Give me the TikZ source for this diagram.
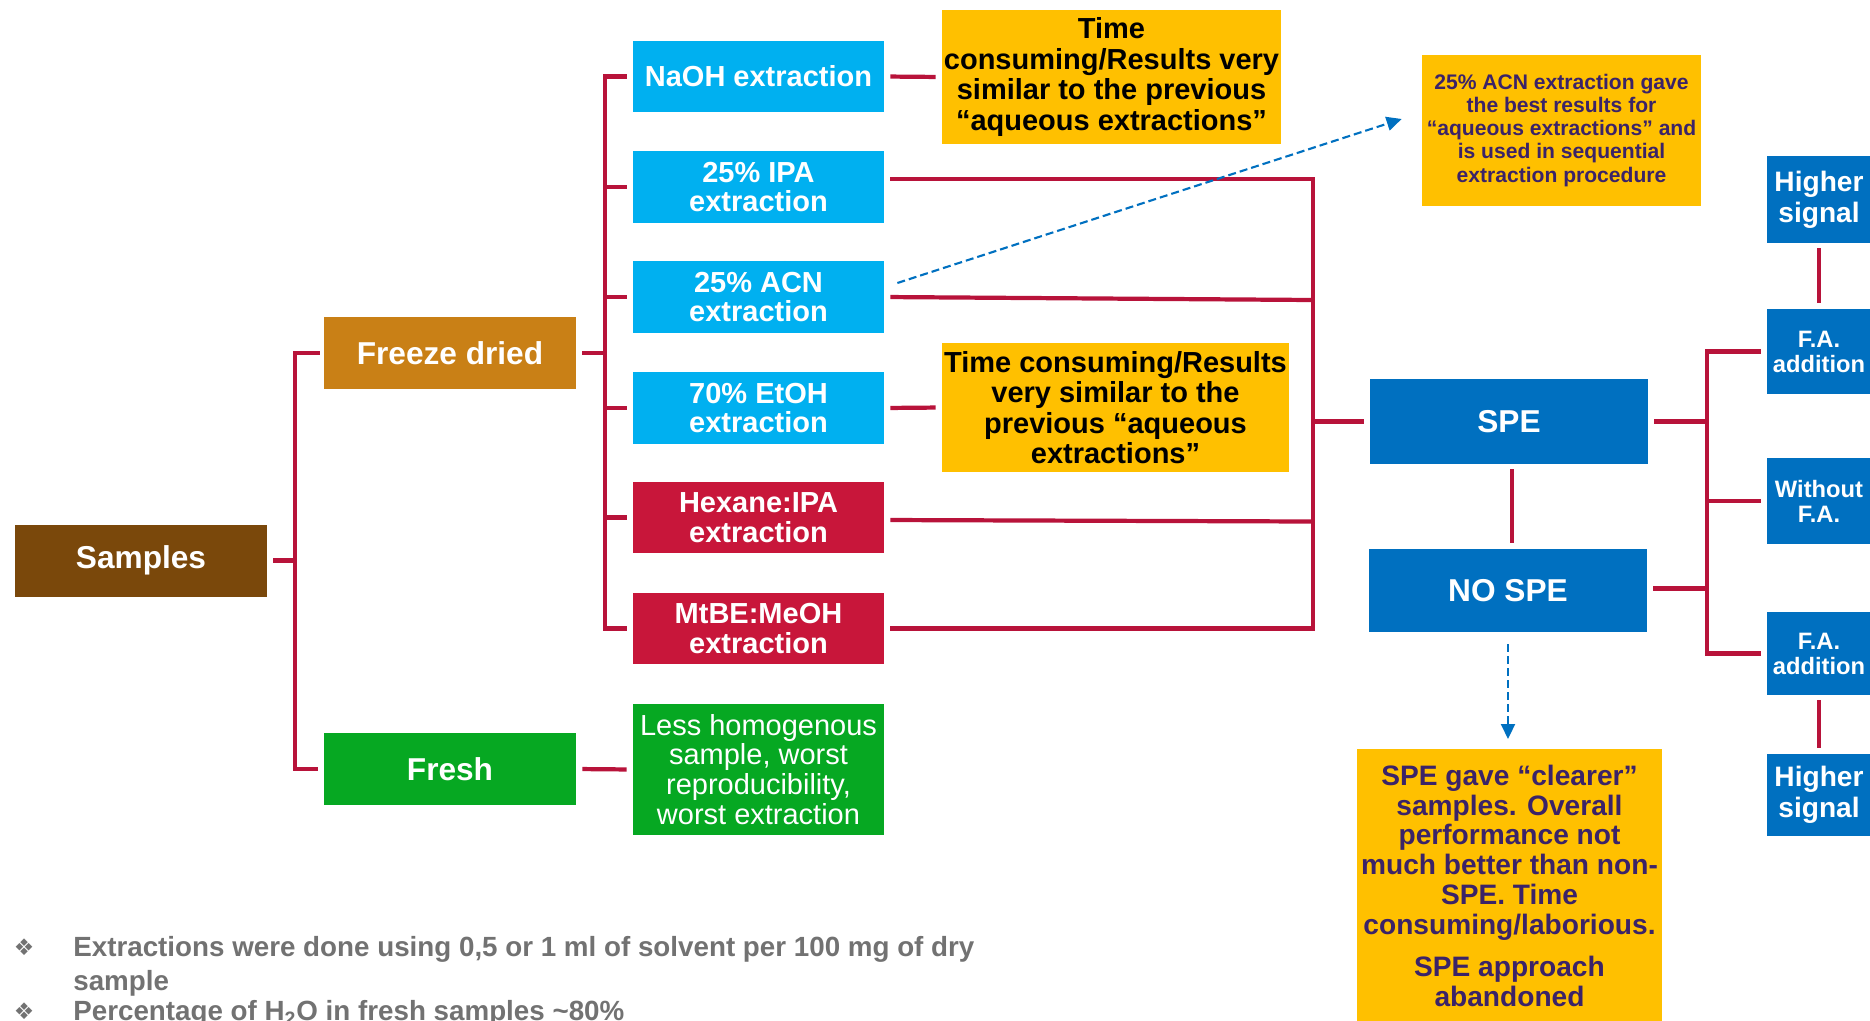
\documentclass[tikz,border=0pt]{standalone}
\usepackage{fontspec}
\setmainfont{Liberation Sans}
\newfontfamily\dejavu{DejaVu Sans}
\usetikzlibrary{arrows.meta}
\definecolor{brownbox}{HTML}{7A480B}
\definecolor{ochre}{HTML}{C98016}
\definecolor{greenbox}{HTML}{06A822}
\definecolor{skybox}{HTML}{00B0F0}
\definecolor{redbox}{HTML}{C8163A}
\definecolor{bluebox}{HTML}{0070C0}
\definecolor{notebox}{HTML}{FFC000}
\definecolor{notetext}{HTML}{3B2368}
\definecolor{linkred}{HTML}{B8133A}
\definecolor{bulletgray}{HTML}{727272}
\begin{document}
\begin{tikzpicture}
\tikzstyle{every node}=[rectangle,inner sep=0pt,align=center]
\tikzstyle{box}=[text=white,font=\fontsize{16.5pt}{17pt}\selectfont\bfseries,minimum width=5.02cm,minimum height=1.43cm]
\tikzstyle{big}=[box,font=\fontsize{18pt}{19pt}\selectfont\bfseries,minimum width=5.04cm,minimum height=1.44cm]
\tikzstyle{side}=[text=white,fill=bluebox,minimum width=2.08cm,font=\fontsize{13.5pt}{14.2pt}\selectfont\bfseries]
\tikzstyle{note}=[fill=notebox,font=\fontsize{16.5pt}{17.4pt}\selectfont\bfseries]
\tikzstyle{link}=[draw=linkred,line width=2.4pt,shorten >=0.12cm]
\tikzstyle{hint}=[draw=bluebox,line width=1.2pt,dash pattern=on 0.16cm off 0.08cm,-{Triangle[length=0.3cm,width=0.28cm]}]
\tikzstyle{remark}=[text=bulletgray,font=\fontsize{15.8pt}{18.8pt}\selectfont\bfseries,anchor=north west,align=left]
\useasboundingbox (0,0) rectangle (37.4,-20.4);

\node[big,fill=brownbox](s0) at (2.82,-11.21) {Samples};
\node[big,fill=ochre](f1) at (9.0,-7.06) {Freeze dried};
\node[big,fill=greenbox](f2) at (9.0,-15.38) {Fresh};

\node[box,fill=skybox](e1) at (15.17,-1.53) {NaOH extraction};
\node[box,fill=skybox](e2) at (15.17,-3.74) {25\% IPA\\extraction};
\node[box,fill=skybox](e3) at (15.17,-5.94) {25\% ACN\\extraction};
\node[box,fill=skybox](e4) at (15.17,-8.16) {70\% EtOH\\extraction};
\node[box,fill=redbox](e5) at (15.17,-10.35) {Hexane:IPA\\extraction};
\node[box,fill=redbox](e6) at (15.17,-12.57) {MtBE:MeOH\\extraction};
\node[box,fill=greenbox,minimum height=2.62cm,font=\fontsize{16.5pt}{17pt}\selectfont](c1) at (15.17,-15.39) {Less homogenous\\sample, worst\\reproducibility,\\worst extraction};

\node[note,minimum width=6.78cm,minimum height=2.68cm](y1) at (22.23,-1.54) {Time\\consuming/Results very\\similar to the previous\\“aqueous extractions”};
\node[note,minimum width=6.94cm,minimum height=2.58cm](y2) at (22.31,-8.15) {Time consuming/Results\\very similar to the\\previous “aqueous\\extractions”};
\node[note,text=notetext,minimum width=5.58cm,minimum height=3.02cm,font=\fontsize{12pt}{13.1pt}\selectfont\bfseries](y3) at (31.23,-2.61) {25\% ACN extraction gave\\the best results for\\“aqueous extractions” and\\is used in sequential\\extraction procedure};

\node[box,fill=bluebox,minimum width=5.56cm,minimum height=1.7cm,font=\fontsize{18pt}{19pt}\selectfont\bfseries](p1) at (30.18,-8.43) {SPE};
\node[box,fill=bluebox,minimum width=5.56cm,minimum height=1.66cm,font=\fontsize{18pt}{19pt}\selectfont\bfseries](p2) at (30.16,-11.81) {NO SPE};
\node[note,text=notetext,minimum width=6.1cm,inner ysep=0.31cm,anchor=north,font=\fontsize{16pt}{17pt}\selectfont\bfseries](y4) at (30.19,-14.98) {SPE gave “clearer”\\samples. Overall\\performance not\\much better than non-\\SPE. Time\\consuming/laborious.\\[7pt]SPE approach\\abandoned};

\node[side,minimum height=1.74cm,font=\fontsize{16pt}{17.6pt}\selectfont\bfseries](r1) at (36.38,-3.99) {Higher\\signal};
\node[side,minimum height=1.7cm](r2) at (36.38,-7.03) {F.A.\\addition};
\node[side,minimum height=1.72cm](r3) at (36.38,-10.02) {Without\\F.A.};
\node[side,minimum height=1.66cm](r4) at (36.38,-13.07) {F.A.\\addition};
\node[side,minimum height=1.64cm,font=\fontsize{16pt}{17.6pt}\selectfont\bfseries](r5) at (36.38,-15.9) {Higher\\signal};

% left tree
\coordinate (b1) at (5.9,-11.21);
\draw[link] (b1) -- (s0.east);
\draw[link,shorten <=0.08cm] (f1.west) -| (b1) |- (f2.west);
\coordinate (b2) at (12.1,-7.06);
\draw[link] (b2) -- (f1.east);
\draw[link,shorten <=0.12cm] (e1.west) -| (b2) |- (e6.west);
\foreach \i in {2,...,5}
  \draw[link] (e\i.west -| b2) -- (e\i.west);
\draw[link,shorten <=0.12cm] (f2.east) -- (c1.west);
\draw[link,shorten <=0.12cm] (e1.east) -- (y1.west);
\draw[link,shorten <=0.12cm] (e4.east) -- (y2.west);

% towards SPE
\coordinate (b3) at (26.26,-8.43);
\draw[link] (b3) -- (p1.west);
\draw[link,shorten <=0.12cm] ([yshift=0.16cm]e2.east) -| (b3) |- (e6.east);
\draw[link] ([yshift=-0.06cm]e3.east -| b3) -- (e3.east);
\draw[link] ([yshift=-0.08cm]e5.east -| b3) -- ([yshift=-0.05cm]e5.east);
\draw[link,shorten <=0.1cm] ([xshift=0.06cm]p1.south) -- ([xshift=0.06cm]p1.south |- p2.north);

% right side
\coordinate (b4) at (34.14,-8.43);
\draw[link] (b4) -- (p1.east);
\draw[link] ([yshift=0.04cm]p2.east -| b4) -- ([yshift=0.04cm]p2.east);
\draw[link,shorten <=0.12cm] (r2.west) -| (b4) |- (r4.west);
\draw[link] (r3.west -| b4) -- (r3.west);
\draw[link,shorten <=0.1cm] (r1.south) -- (r2.north);
\draw[link,shorten <=0.1cm] (r4.south) -- (r5.north);

\draw[hint] ([shift={(0.26,0.28)}]e3.east) -- ([shift={(-0.4,0.23)}]y3.west);
\draw[hint,shorten <=0.24cm,shorten >=0.2cm] (p2.south) -- (p2.south |- y4.north);

% notes at the bottom
\node[text=bulletgray,font=\dejavu\fontsize{13pt}{13pt}\selectfont](m1) at (0.48,-18.94) {❖};
\node[remark](t1) at (1.46,-18.73) {Extractions were done using 0,5 or 1 ml of solvent per 100 mg of dry\\sample};
\node[text=bulletgray,font=\dejavu\fontsize{13pt}{13pt}\selectfont](m2) at (0.48,-20.22) {❖};
\node[remark](t2) at (1.46,-20.01) {Percentage of H\textsubscript{2}O in fresh samples \textasciitilde80\%};
\end{tikzpicture}
\end{document}
